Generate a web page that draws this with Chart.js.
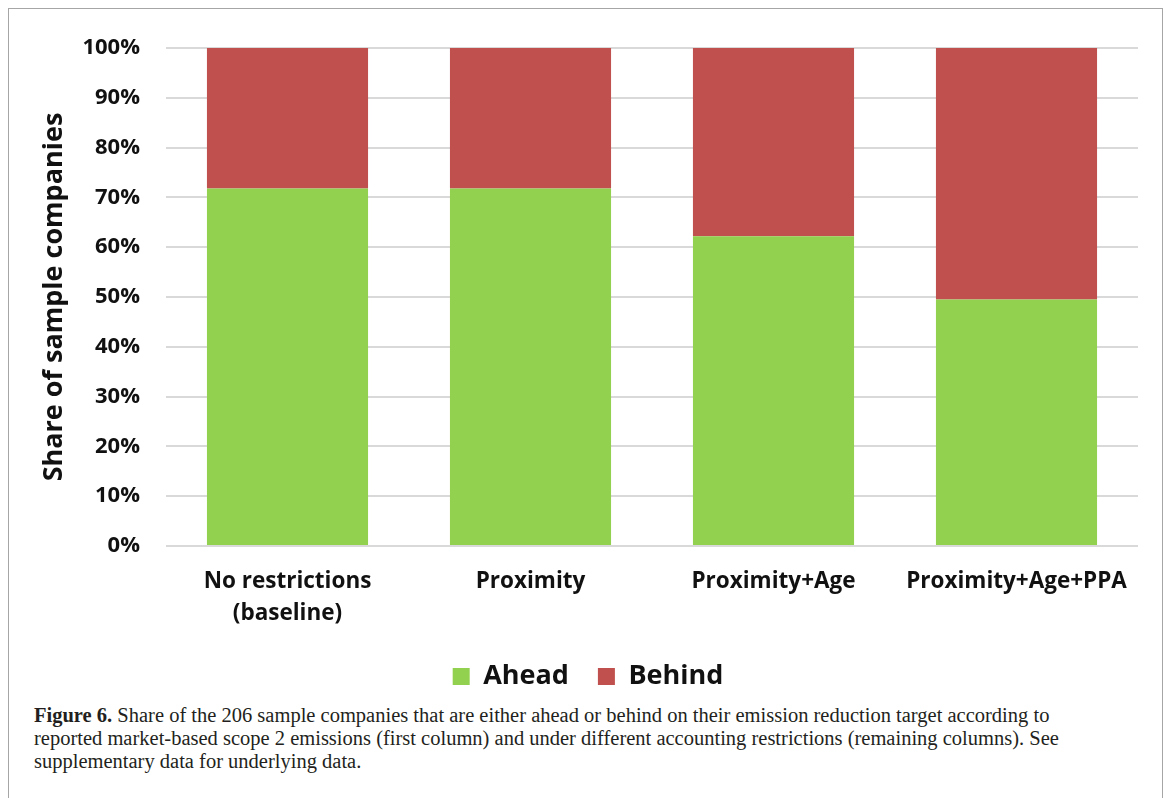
<!DOCTYPE html>
<html>
<head>
<meta charset="utf-8">
<script src="https://cdn.jsdelivr.net/npm/chart.js@4"></script>
<style>
  html, body { margin:0; padding:0; background:#fff; width:1166px; height:798px; overflow:hidden; }
  #frame { position:absolute; left:8px; top:8px; width:1155px; height:820px; border:1px solid #a6a6a6; box-sizing:border-box; }
  #wrap { position:absolute; left:0; top:0; width:1166px; height:700px; }
  #caption { position:absolute; left:34px; top:704px; font-family:"Liberation Serif","DejaVu Serif",serif; font-size:20.5px; line-height:23px; color:#231f20; white-space:nowrap; }
</style>
</head>
<body>
<div id="frame"></div>
<div id="wrap"><canvas id="c" width="1166" height="700"></canvas></div>
<div id="caption"><b>Figure 6.</b> Share of the 206 sample companies that are either ahead or behind on their emission reduction target according to<br>reported market-based scope 2 emissions (first column) and under different accounting restrictions (remaining columns). See<br>supplementary data for underlying data.</div>
<script>
const categories = [["No restrictions","(baseline)"], "Proximity", "Proximity+Age", "Proximity+Age+PPA"];
const aheadValues = [71.8, 71.8, 62.2, 49.5];
const behindValues = [28.2, 28.2, 37.8, 50.5];
const yTicks = [0,10,20,30,40,50,60,70,80,90,100];
const seriesNames = ["Ahead", "Behind"];

new Chart(document.getElementById('c'), {
  type: 'bar',
  data: {
    labels: categories,
    datasets: [
      { label: seriesNames[0], data: aheadValues, backgroundColor: '#92D050', barPercentage: 0.663, categoryPercentage: 1 },
      { label: seriesNames[1], data: behindValues, backgroundColor: '#C0504D', barPercentage: 0.663, categoryPercentage: 1 }
    ]
  },
  options: {
    responsive: false,
    animation: false,
    layout: { padding: { top: 48, right: 28, left: 38, bottom: 0 } },
    plugins: {
      tooltip: { enabled: false },
      legend: {
        position: 'bottom',
        labels: {
          boxWidth: 17, boxHeight: 17, padding: 29,
          color: '#111',
          font: { family: 'Open Sans', weight: 'bold', size: 27 }
        }
      }
    },
    scales: {
      x: {
        stacked: true,
        grid: { display: false },
        border: { display: false },
        ticks: {
          padding: 12,
          color: '#111',
          maxRotation: 0,
          font: { family: 'Open Sans', weight: 'bold', size: 22.5, lineHeight: 1.42 }
        },
        afterFit: s => { s.height = 88; }
      },
      y: {
        stacked: true,
        min: 0, max: 100,
        afterBuildTicks: s => { s.ticks = yTicks.map(v => ({ value: v })); },
        grid: { color: '#d9d9d9', lineWidth: 2, drawTicks: false },
        border: { display: false },
        ticks: {
          padding: 26,
          color: '#111',
          font: { family: 'Open Sans', weight: 'bold', size: 22 },
          callback: v => v + '%'
        },
        title: {
          display: true,
          text: 'Share of sample companies',
          color: '#111',
          padding: { top: 0, bottom: 0 },
          font: { family: 'Open Sans', weight: 'bold', size: 27 }
        },
        afterFit: s => { s.width = 128; }
      }
    }
  }
});
</script>
</body>
</html>
